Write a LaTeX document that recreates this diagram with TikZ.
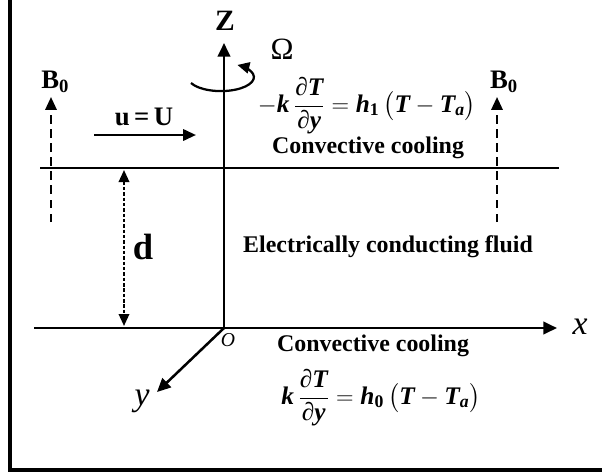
\documentclass[tikz,border=0pt]{standalone}
\usepackage{fontspec}
\setmainfont{Liberation Serif}
\usepackage{amsmath}
\usetikzlibrary{positioning,arrows.meta}
\newcommand{\bvar}[1]{\text{\bfseries\itshape #1}}
\newcommand{\bnum}[1]{\text{\bfseries #1}}

\begin{document}
\begin{tikzpicture}[x=0.025cm, y=-0.025cm]
  \tikzstyle{axisline}=[line width=1.8pt, -{Triangle[length=3.4mm, width=3.1mm]}]
  \tikzstyle{wall}=[line width=1.8pt]
  \tikzstyle{frame}=[line width=2.2pt]
  \tikzstyle{field}=[line width=1.6pt, dash pattern=on 6pt off 4pt, -{Triangle[length=3.2mm, width=2.8mm]}]
  \tikzstyle{gapline}=[line width=1.5pt, dash pattern=on 2.5pt off 1.3pt, {Triangle[length=3mm, width=2.6mm]}-{Triangle[length=3mm, width=2.6mm]}]
  \tikzstyle{flow}=[line width=1.8pt, -{Triangle[length=3.2mm, width=2.8mm]}]
  \tikzstyle{spin}=[line width=1.6pt, -{Triangle[length=3mm, width=2.8mm]}]
  \tikzstyle{lbl}=[font=\fontsize{17}{20}\selectfont\bfseries, inner sep=1pt]
  \tikzstyle{eqn}=[font=\fontsize{18}{22}\selectfont, inner sep=1pt]
  \tikzstyle{coord}=[font=\fontsize{24}{28}\selectfont\itshape, inner sep=1pt]

  \useasboundingbox (0,0) rectangle (602,474);
  \clip (0,0) rectangle (602,474);

  % frame
  \draw[frame] (10,-10) rectangle (620,470);

  % axes and walls
  \coordinate (O) at (224,328);
  \coordinate (zend) at (224,43);
  \coordinate (xstart) at (34,328);
  \coordinate (xend) at (557,328);
  \coordinate (yend) at (157,392);
  \coordinate (topL) at (40,168);
  \coordinate (topR) at (559,168);

  \draw[wall] (topL) -- (topR);
  \draw[axisline] (xstart) -- (xend);
  \draw[axisline] (O) -- (zend);
  \draw[axisline] (O) -- (yend);

  \node[lbl, font=\fontsize{21}{24}\selectfont\bfseries] (zlbl) at (225,21) {Z};
  \node[coord] (xlbl) at (580,327) {x};
  \node[coord] (ylbl) at (142,401) {y};
  \node[coord, font=\fontsize{14}{16}\selectfont\itshape] (olbl) at (228,340) {O};

  % rotation
  \draw[spin] (191,83) arc[start angle=155, end angle=-60, x radius=33, y radius=14];
  \node[font=\fontsize{22}{25}\selectfont] (omega) at (282,49) {Ω};

  % magnetic field
  \coordinate (bLbot) at (51,222);
  \coordinate (bLtop) at (51,97);
  \coordinate (bRbot) at (497,222);
  \coordinate (bRtop) at (497,97);
  \draw[field] (bLbot) -- (bLtop);
  \draw[field] (bRbot) -- (bRtop);
  \node[lbl, font=\fontsize{19}{22}\selectfont\bfseries] (b0L) [above=2pt of bLtop, xshift=3pt] {B\textsubscript{0}};
  \node[lbl, font=\fontsize{19}{22}\selectfont\bfseries] (b0R) [above=2pt of bRtop, xshift=5pt] {B\textsubscript{0}};

  % flow
  \coordinate (uL) at (94,135);
  \coordinate (uR) at (196,135);
  \draw[flow] (uL) -- (uR);
  \node[lbl, font=\fontsize{19}{22}\selectfont\bfseries] (ulbl) at (144,117) {u\,=\,U};

  % depth
  \coordinate (dtop) at (124,170);
  \coordinate (dbot) at (124,326);
  \draw[gapline] (dtop) -- (dbot);
  \node[lbl, font=\fontsize{26}{30}\selectfont\bfseries] (dlbl) at (143,247) {d};

  % boundary conditions
  \node[eqn] (topeq) at (367,106) {$-\bvar{k}\,\dfrac{\bvar{∂T}}{\bvar{∂y}} = \bvar{h}_{\bnum{1}}\,\bigl(\bvar{T} - \bvar{T}_{\bvar{a}}\bigr)$};
  \node[lbl] (topcool) at (368,148) {Convective cooling};
  \node[lbl] (fluid) at (388,247) {Electrically conducting fluid};
  \node[lbl] (botcool) at (373,346) {Convective cooling};
  \node[eqn] (boteq) at (381,398) {$\bvar{k}\,\dfrac{\bvar{∂T}}{\bvar{∂y}} = \bvar{h}_{\bnum{0}}\,\bigl(\bvar{T} - \bvar{T}_{\bvar{a}}\bigr)$};
\end{tikzpicture}
\end{document}
